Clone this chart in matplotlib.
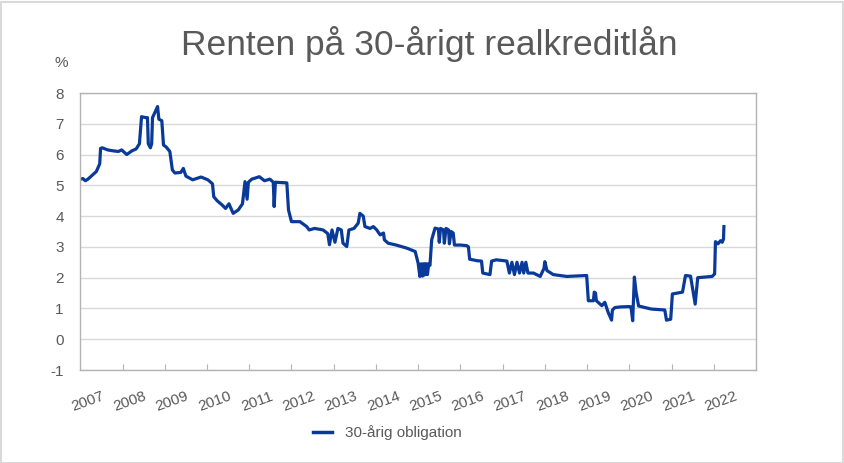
import matplotlib
matplotlib.use("Agg")
import matplotlib.pyplot as plt
from matplotlib.patches import Rectangle
from matplotlib.lines import Line2D

plt.rcParams['font.family'] = ['Liberation Sans', 'DejaVu Sans']

title = "Renten på 30-årigt realkreditlån"
series_name = "30-årig obligation"
year_labels = [str(y) for y in range(2007, 2023)]

# decimal year, rate in %
years = [
    2007.00, 2007.06, 2007.12, 2007.18, 2007.26, 2007.38, 2007.46, 2007.48, 2007.52, 2007.65,
    2007.78, 2007.90, 2007.98, 2008.10, 2008.22, 2008.32, 2008.40, 2008.45, 2008.55, 2008.59,
    2008.61, 2008.66, 2008.69, 2008.71, 2008.76, 2008.83, 2008.86, 2008.93, 2008.97, 2009.03,
    2009.12, 2009.18, 2009.24, 2009.38, 2009.44, 2009.50, 2009.66, 2009.86, 2010.02, 2010.13,
    2010.16, 2010.24, 2010.36, 2010.44, 2010.52, 2010.62, 2010.74, 2010.84, 2010.90, 2010.95,
    2010.98, 2011.06, 2011.24, 2011.36, 2011.49, 2011.57, 2011.59, 2011.62, 2011.89, 2011.93,
    2012.00, 2012.20, 2012.30, 2012.36, 2012.42, 2012.55, 2012.75, 2012.86, 2012.90, 2012.96,
    2013.03, 2013.10, 2013.18, 2013.22, 2013.31, 2013.36, 2013.48, 2013.58, 2013.62, 2013.70,
    2013.74, 2013.86, 2013.94, 2014.02, 2014.10, 2014.18, 2014.20, 2014.29, 2014.48, 2014.73,
    2014.93, 2015.00, 2015.04, 2015.07, 2015.10, 2015.12, 2015.14, 2015.16, 2015.18, 2015.20,
    2015.22, 2015.25, 2015.28, 2015.32, 2015.40,
    2015.48, 2015.50, 2015.53, 2015.60, 2015.62, 2015.66, 2015.72, 2015.74, 2015.78, 2015.83,
    2015.86, 2016.00, 2016.15, 2016.19, 2016.22, 2016.40, 2016.50, 2016.53, 2016.70, 2016.74,
    2016.85, 2017.10, 2017.16, 2017.22, 2017.28, 2017.34, 2017.40, 2017.46, 2017.50, 2017.55,
    2017.60, 2017.73, 2017.89, 2017.98, 2018.00, 2018.05, 2018.20, 2018.52, 2018.80, 2018.99,
    2019.03, 2019.15, 2019.17, 2019.20, 2019.22, 2019.35, 2019.42, 2019.50, 2019.58, 2019.60,
    2019.66, 2019.80, 2020.00, 2020.04, 2020.08, 2020.12, 2020.16, 2020.22, 2020.52, 2020.84,
    2020.88, 2020.98, 2021.02, 2021.26, 2021.33, 2021.45, 2021.52, 2021.56, 2021.62, 2021.96,
    2022.02, 2022.04, 2022.10, 2022.16, 2022.20, 2022.23, 2022.24,
]
rates = [
    5.20, 5.22, 5.15, 5.20, 5.30, 5.45, 5.70, 6.20, 6.22, 6.15,
    6.12, 6.10, 6.15, 6.00, 6.12, 6.18, 6.35, 7.23, 7.20, 7.20,
    6.35, 6.22, 6.35, 7.20, 7.35, 7.56, 7.15, 7.10, 6.31, 6.25,
    6.10, 5.50, 5.40, 5.42, 5.55, 5.30, 5.18, 5.27, 5.18, 5.05,
    4.63, 4.50, 4.36, 4.25, 4.40, 4.09, 4.20, 4.40, 5.12, 4.55,
    5.10, 5.20, 5.28, 5.15, 5.20, 5.10, 4.31, 5.10, 5.08, 4.20,
    3.82, 3.82, 3.72, 3.66, 3.55, 3.60, 3.55, 3.43, 3.07, 3.55,
    3.15, 3.60, 3.55, 3.12, 3.01, 3.55, 3.60, 3.77, 4.09, 4.00,
    3.66, 3.60, 3.66, 3.55, 3.39, 3.45, 3.23, 3.12, 3.06, 2.96,
    2.85, 2.47, 2.04, 2.45, 2.05, 2.45, 2.08, 2.45, 2.10, 2.45,
    2.10, 2.45, 2.40, 3.23, 3.61,
    3.58, 3.15, 3.60, 3.55, 3.12, 3.60, 3.55, 3.10, 3.50, 3.45,
    3.06, 3.06, 3.04, 3.00, 2.60, 2.55, 2.54, 2.15, 2.10, 2.54,
    2.58, 2.54, 2.15, 2.50, 2.10, 2.50, 2.15, 2.50, 2.15, 2.50,
    2.15, 2.15, 2.04, 2.30, 2.52, 2.23, 2.10, 2.04, 2.06, 2.07,
    1.25, 1.25, 1.53, 1.50, 1.25, 1.09, 1.20, 0.87, 0.62, 0.95,
    1.03, 1.05, 1.06, 1.05, 0.60, 2.02, 1.53, 1.08, 0.98, 0.95,
    0.62, 0.65, 1.47, 1.53, 2.07, 2.05, 1.47, 1.14, 2.00, 2.04,
    2.12, 3.17, 3.10, 3.20, 3.15, 3.25, 3.66,
]

W, H = 844, 463
fig = plt.figure(figsize=(W / 100, H / 100), dpi=100)
fig.patch.set_facecolor('white')

left, right, top, bottom = 80.3, 756, 93, 370
ax = fig.add_axes([left / W, 1 - bottom / H, (right - left) / W, (bottom - top) / H])

line_color = '#0a3a99'
text_color = '#595959'
ax.plot(years, rates, color=line_color, lw=2.3, solid_joinstyle='round')

ax.set_xlim(2007, 2023)
ax.set_ylim(-1, 8)
ax.set_yticks(range(-1, 9))
ax.set_yticklabels([str(v) for v in range(-1, 9)], fontsize=11, color=text_color)
ax.tick_params(axis='y', length=0, pad=12)
ax.grid(axis='y', color='#d9d9d9', lw=1)
ax.set_axisbelow(True)

ax.set_xticks(range(2008, 2023))
ax.set_xticklabels([])
ax.tick_params(axis='x', which='major', direction='in', length=4, color='#b3b3b3')
ax.set_xticks([y + 0.5 for y in range(2007, 2023)], minor=True)
ax.set_xticklabels(year_labels, minor=True, rotation=20, ha='right',
                   rotation_mode='anchor', fontsize=11, color=text_color)
ax.tick_params(axis='x', which='minor', length=0, pad=14)

for s in ax.spines.values():
    s.set_color('#b3b3b3')
    s.set_linewidth(1)

fig.text(68 / W, 1 - 63 / H, '%', ha='right', va='center', fontsize=11, color=text_color)
fig.text(429 / W, 1 - 44 / H, title, ha='center', va='center', fontsize=25.5, color=text_color)

handle = Line2D([], [], color=line_color, lw=2.5)
fig.legend([handle], [series_name], loc='center', bbox_to_anchor=(387 / W, 1 - 433 / H),
           frameon=False, fontsize=11, labelcolor=text_color, handlelength=1.3,
           handletextpad=0.8)

fig.patches.append(Rectangle((0.5 / W, 0.5 / H), (W - 2) / W, (H - 2) / H,
                             transform=fig.transFigure, fill=False,
                             edgecolor='#d9d9d9', lw=1.5))

fig.savefig('out.png', dpi=100)
